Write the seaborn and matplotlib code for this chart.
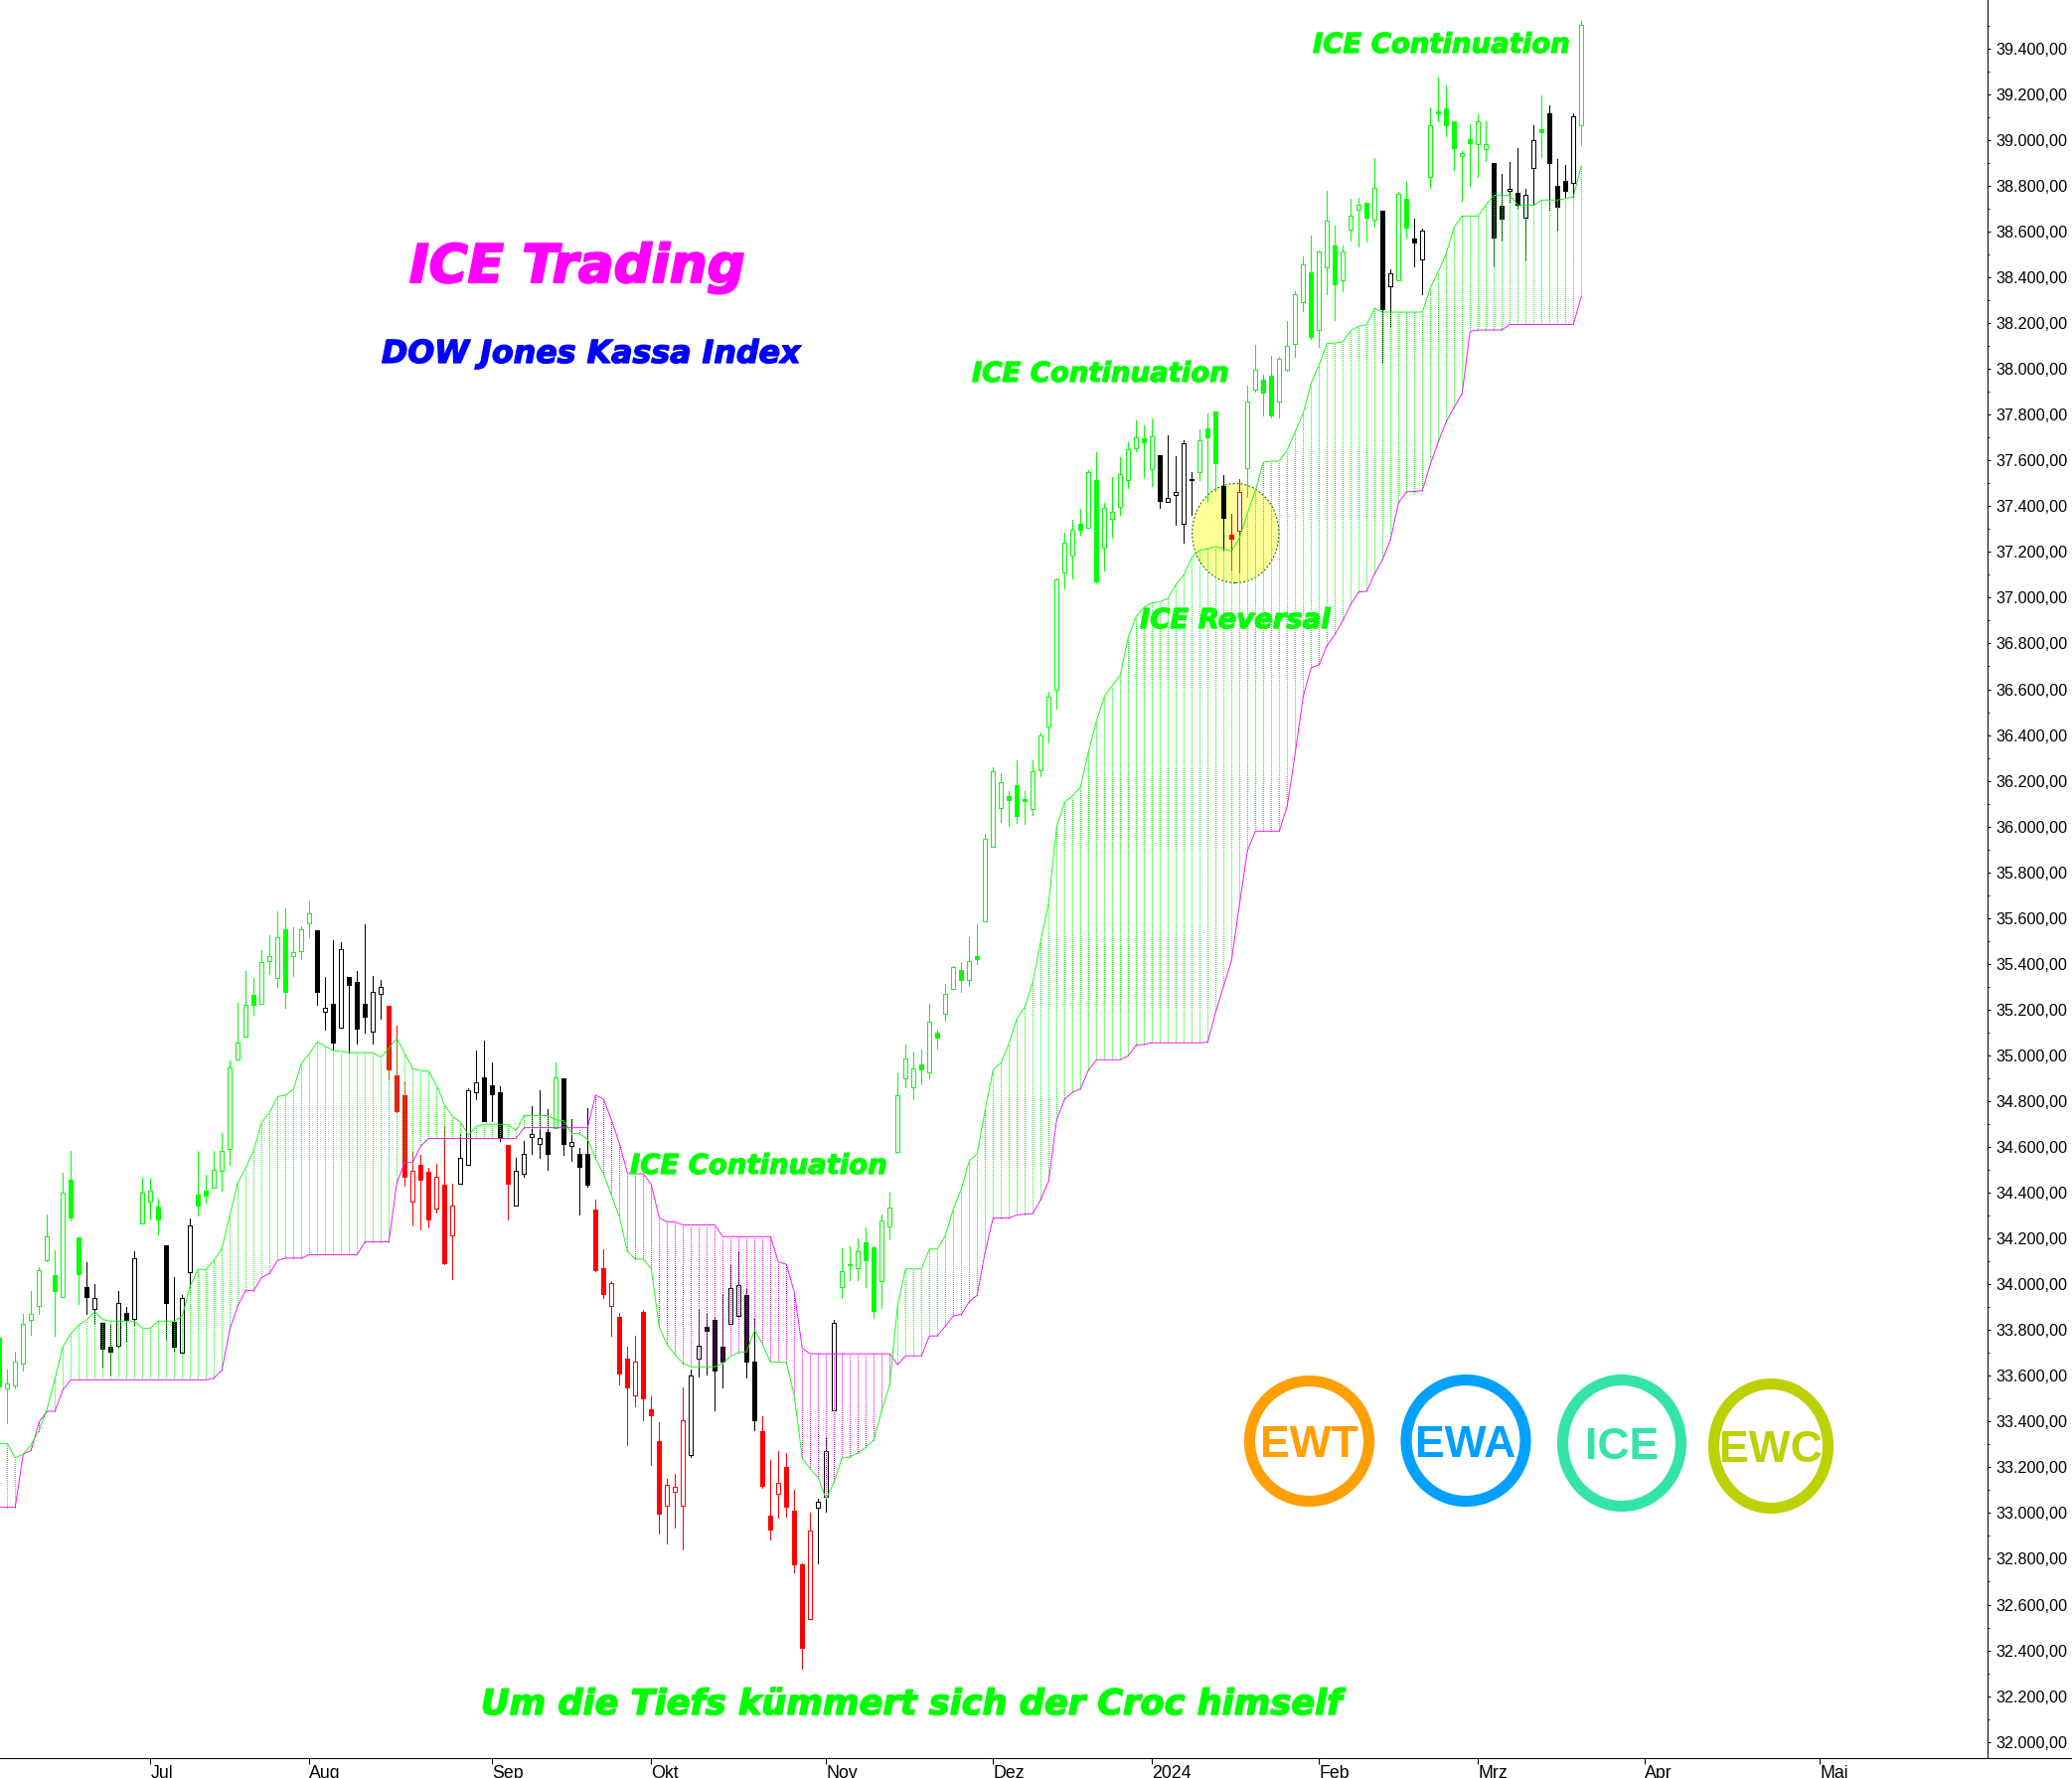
import matplotlib
matplotlib.use('Agg')
import matplotlib.pyplot as plt
from matplotlib import patheffects
from matplotlib.patches import Ellipse
import numpy as np
import pandas as pd
import seaborn as sns

# Daily bars, first one is partly cut off by the left edge
first_bar = -1

# G/K/R = filled green/black/red body, lower case = hollow body
bar_kinds = (
    'GggggggGgGG' 'KkKKkKk' 'ggG' 'KKkk' 'GGgggggGgggGggg' 'KkKkKKKkk' 'RRRrRRrRr'
    'kkkKKK' 'R' 'kkkkK' 'g' 'KkKK' 'RRrRRrRRRrrr' 'kkKKKkkKK' 'RRrRRRr' 'kkk'
    'gGgGGgggggGgGggGgGgggGGGggggggGgGgggggGg' 'Kkkkk' 'gGG' 'K' 'Rr'
    'ggGGggggGggGgggGg' 'Kk' 'gG' 'Kk' 'gGGGgGgg' 'KKkKkk' 'G' 'KKKk' 'g'
)

highs = [
    33765, 33628, 33705, 33869, 33970, 34074, 34304, 34147, 34487, 34584,
    34204, 34097, 34001, 33831, 33822, 33970, 33901, 34144, 34466, 34460,
    34374, 34170, 34031, 33954, 34287, 34581, 34479, 34584, 34660, 34980,
    35231, 35368, 35338, 35458, 35524, 35630, 35643, 35560, 35564, 35673,
    35547, 35342, 35504, 35494, 35342, 35368, 35573, 35349, 35330, 35217,
    35131, 34888, 34584, 34566, 34509, 34528, 34688, 34440, 34650, 34858,
    35020, 35065, 34971, 34865, 34607, 34554, 34624, 34780, 34846, 34763,
    34971, 34899, 34722, 34594, 34771, 34372, 34151, 34012, 33874, 33726,
    33773, 33889, 33509, 33396, 33151, 33170, 33550, 33626, 33893, 33876,
    33857, 33955, 34085, 34144, 33984, 33852, 33422, 33230, 33272, 33264,
    33102, 32782, 33000, 33064, 33334, 33846, 34159, 34164, 34202, 34248,
    34166, 34305, 34400, 34926, 35048, 35017, 35026, 35226, 35113, 35313,
    35392, 35407, 35516, 35573, 35968, 36259, 36232, 36157, 36289, 36157,
    36289, 36409, 36590, 37084, 37285, 37340, 37389, 37558, 37634, 37415,
    37528, 37615, 37679, 37773, 37754, 37784, 37622, 37709, 37618, 37686,
    37547, 37735, 37805, 37813, 37536, 37366, 37519, 37925, 38106, 37975,
    38056, 38051, 38209, 38340, 38492, 38581, 38517, 38779, 38625, 38540,
    38744, 38747, 38726, 38921, 38692, 38435, 38772, 38818, 38655, 38614,
    39142, 39275, 39238, 39082, 38953, 39070, 39112, 39082, 38898, 38850,
    38903, 38963, 38786, 39063, 39194, 39150, 38919, 38891, 39116, 39520,
]
body_top = [
    33765, 33567, 33660, 33829, 33872, 34061, 34208, 34038, 34402, 34458,
    34204, 33986, 33942, 33831, 33726, 33920, 33876, 34115, 34402, 34411,
    34338, 34170, 33835, 33938, 34255, 34390, 34409, 34502, 34581, 34946,
    35054, 35219, 35266, 35406, 35432, 35515, 35553, 35453, 35553, 35622,
    35547, 35210, 35225, 35466, 35342, 35319, 35225, 35276, 35300, 35217,
    34912, 34824, 34494, 34524, 34490, 34468, 34436, 34342, 34554, 34846,
    34884, 34905, 34871, 34837, 34607, 34494, 34571, 34658, 34641, 34664,
    34903, 34899, 34620, 34568, 34571, 34328, 34072, 34003, 33856, 33677,
    33660, 33878, 33452, 33315, 33125, 33113, 33404, 33599, 33733, 33816,
    33844, 33729, 33982, 33995, 33955, 33663, 33360, 32987, 33134, 33200,
    33012, 32778, 32925, 33048, 33270, 33833, 34055, 34087, 34146, 34183,
    34162, 34277, 34334, 34825, 34985, 34942, 34961, 35146, 35100, 35268,
    35385, 35371, 35411, 35433, 35946, 36240, 36196, 36132, 36179, 36121,
    36240, 36398, 36569, 37082, 37242, 37298, 37321, 37551, 37513, 37394,
    37375, 37539, 37647, 37703, 37698, 37707, 37622, 37434, 37460, 37677,
    37517, 37686, 37739, 37813, 37490, 37276, 37460, 37856, 37996, 37952,
    37969, 38044, 38102, 38326, 38458, 38421, 38512, 38646, 38538, 38512,
    38668, 38719, 38724, 38790, 38692, 38416, 38763, 38742, 38568, 38604,
    39063, 39126, 39137, 39082, 38942, 39006, 39080, 38981, 38898, 38712,
    38786, 38769, 38761, 38999, 39048, 39116, 38802, 38820, 39102, 39502,
]
body_bottom = [
    33555, 33545, 33556, 33652, 33846, 33903, 34106, 33972, 33944, 34293,
    34046, 33946, 33893, 33720, 33707, 33733, 33846, 33850, 34264, 34362,
    34281, 33916, 33729, 33699, 34051, 34342, 34387, 34421, 34494, 34590,
    34984, 35084, 35223, 35225, 35413, 35340, 35276, 35436, 35457, 35579,
    35276, 35189, 35057, 35121, 35310, 35119, 35170, 35106, 35268, 34940,
    34756, 34468, 34362, 34458, 34285, 34332, 34091, 34213, 34438, 34524,
    34841, 34713, 34831, 34639, 34438, 34345, 34481, 34645, 34615, 34571,
    34681, 34611, 34605, 34511, 34436, 34061, 33959, 33903, 33611, 33547,
    33513, 33503, 33428, 32999, 33031, 33095, 33034, 33255, 33677, 33797,
    33624, 33663, 33829, 33863, 33660, 33407, 33119, 32929, 33085, 33029,
    32778, 32413, 32535, 33025, 33070, 33451, 33986, 34083, 34068, 34106,
    33885, 34015, 34254, 34577, 34901, 34862, 34940, 34927, 35079, 35183,
    35292, 35328, 35328, 35420, 35588, 35910, 36083, 36117, 36048, 36110,
    36078, 36247, 36436, 36596, 37110, 37185, 37298, 37304, 37072, 37217,
    37343, 37398, 37513, 37654, 37681, 37560, 37421, 37417, 37447, 37321,
    37515, 37547, 37703, 37587, 37349, 37259, 37294, 37565, 37911, 37898,
    37797, 37856, 37998, 38108, 38290, 38139, 38168, 38442, 38372, 38386,
    38607, 38694, 38662, 38650, 38262, 38363, 38389, 38618, 38554, 38478,
    38838, 39119, 39063, 38963, 38928, 38988, 38981, 38960, 38575, 38655,
    38776, 38717, 38659, 38877, 39036, 38898, 38707, 38779, 38811, 39063,
]
lows = [
    33550, 33394, 33543, 33624, 33778, 33872, 34100, 33775, 33944, 34279,
    33912, 33872, 33831, 33637, 33605, 33727, 33752, 33822, 34264, 34281,
    34217, 33760, 33709, 33699, 33986, 34302, 34358, 34421, 34411, 34524,
    34984, 35084, 35178, 35225, 35355, 35300, 35210, 35347, 35423, 35517,
    35219, 35112, 35027, 35121, 35008, 35052, 35099, 35052, 35161, 34901,
    34748, 34430, 34257, 34240, 34247, 34315, 34087, 34021, 34438, 34524,
    34807, 34713, 34713, 34628, 34285, 34345, 34468, 34571, 34553, 34500,
    34681, 34566, 34541, 34304, 34428, 34055, 33942, 33776, 33562, 33296,
    33466, 33404, 33211, 32910, 32869, 32936, 32842, 33247, 33596, 33607,
    33451, 33547, 33829, 33856, 33594, 33362, 33112, 32886, 32982, 32985,
    32739, 32322, 32535, 32782, 33004, 33451, 33942, 34018, 34018, 33988,
    33855, 33897, 34196, 34577, 34861, 34809, 34874, 34901, 35030, 35151,
    35292, 35277, 35302, 35401, 35588, 35910, 36021, 36002, 36017, 36012,
    36051, 36221, 36366, 36515, 37042, 37085, 37276, 37304, 37065, 37121,
    37261, 37364, 37479, 37641, 37528, 37490, 37394, 37417, 37317, 37242,
    37364, 37515, 37417, 37468, 37204, 37123, 37116, 37441, 37902, 37797,
    37787, 37790, 37991, 38053, 38251, 38132, 38097, 38327, 38212, 38340,
    38561, 38536, 38558, 38620, 38031, 38186, 38389, 38575, 38450, 38327,
    38793, 39084, 39018, 38868, 38733, 38800, 38841, 38907, 38448, 38559,
    38726, 38699, 38474, 38717, 38926, 38696, 38607, 38753, 38753, 38978,
]

# Cloud borders, one value per bar
span_a = [
    33304, 33304, 33241, 33257, 33300, 33360, 33454, 33586, 33727, 33784,
    33822, 33844, 33880, 33846, 33839, 33839, 33839, 33839, 33808, 33808,
    33839, 33839, 33839, 33859, 33991, 34065, 34065, 34104, 34155, 34302,
    34443, 34509, 34584, 34707, 34750, 34820, 34826, 34852, 34965, 35008,
    35059, 35040, 35021, 35018, 35012, 35012, 35012, 35012, 34991, 35031,
    35074, 35008, 34942, 34933, 34931, 34869, 34784, 34733, 34709, 34652,
    34690, 34699, 34699, 34699, 34696, 34671, 34737, 34737, 34737, 34737,
    34718, 34715, 34658, 34658, 34634, 34549, 34483, 34389, 34294, 34144,
    34110, 34110, 34068, 33814, 33735, 33692, 33654, 33639, 33639, 33639,
    33639, 33654, 33686, 33701, 33705, 33799, 33739, 33660, 33660, 33658,
    33513, 33240, 33193, 33155, 33061, 33136, 33240, 33245, 33264, 33287,
    33320, 33448, 33561, 33908, 34067, 34067, 34067, 34154, 34154, 34212,
    34328, 34415, 34538, 34570, 34762, 34936, 34968, 35052, 35160, 35211,
    35321, 35499, 35669, 35999, 36106, 36134, 36172, 36328, 36460, 36569,
    36616, 36662, 36827, 36918, 36959, 36978, 36982, 36997, 37057, 37100,
    37176, 37208, 37214, 37223, 37214, 37204, 37261, 37370, 37468, 37592,
    37597, 37597, 37645, 37725, 37805, 37937, 38017, 38111, 38113, 38118,
    38168, 38186, 38193, 38265, 38248, 38248, 38248, 38248, 38248, 38248,
    38354, 38425, 38504, 38620, 38668, 38668, 38668, 38717, 38758, 38760,
    38758, 38717, 38715, 38715, 38738, 38738, 38738, 38744, 38753, 38889,
]
span_b = [
    33025, 33025, 33025, 33257, 33274, 33398, 33445, 33445, 33539, 33582,
    33582, 33582, 33582, 33582, 33582, 33582, 33582, 33582, 33582, 33582,
    33582, 33582, 33582, 33582, 33582, 33582, 33582, 33590, 33624, 33803,
    33906, 33972, 33972, 34029, 34048, 34104, 34114, 34114, 34114, 34129,
    34129, 34129, 34129, 34129, 34129, 34129, 34185, 34185, 34185, 34185,
    34443, 34532, 34532, 34603, 34637, 34637, 34637, 34637, 34637, 34637,
    34637, 34637, 34637, 34637, 34637, 34637, 34684, 34684, 34684, 34684,
    34684, 34684, 34684, 34684, 34684, 34826, 34809, 34718, 34615, 34487,
    34483, 34483, 34436, 34291, 34272, 34272, 34259, 34259, 34259, 34259,
    34259, 34208, 34208, 34208, 34208, 34208, 34208, 34208, 34097, 34087,
    33965, 33720, 33696, 33696, 33696, 33696, 33696, 33696, 33696, 33696,
    33696, 33696, 33696, 33648, 33687, 33687, 33687, 33774, 33774, 33817,
    33862, 33868, 33923, 33952, 34140, 34289, 34289, 34289, 34303, 34306,
    34309, 34371, 34451, 34719, 34809, 34839, 34854, 34936, 34981, 34981,
    34981, 34981, 34998, 35045, 35048, 35055, 35055, 35055, 35055, 35055,
    35055, 35055, 35058, 35189, 35302, 35415, 35660, 35895, 35980, 35980,
    35980, 35980, 36089, 36319, 36567, 36693, 36707, 36790, 36839, 36901,
    36972, 37025, 37028, 37105, 37167, 37255, 37415, 37463, 37464, 37468,
    37583, 37681, 37769, 37831, 37893, 38164, 38170, 38170, 38170, 38170,
    38194, 38194, 38194, 38194, 38194, 38194, 38194, 38194, 38194, 38318,
]

month_bars = [18, 38, 61, 81, 103, 124, 144, 165, 185, 206, 228]
month_labels = ['Jul', 'Aug', 'Sep', 'Okt', 'Nov', 'Dez', '2024', 'Feb', 'Mrz', 'Apr', 'Mai']

price_ticks = list(range(32000, 39401, 200))
price_minor = list(range(32100, 39600, 200))

GREEN = '#00ff00'
MAGENTA = '#ff00ff'
colour_of = {'g': GREEN, 'k': '#000000', 'r': '#ff0000'}
PX = 0.72  # one pixel in points at dpi 100

sns.set_theme(style='white')
plt.rcParams['font.family'] = ['Liberation Sans', 'DejaVu Sans']

W, H = 2085, 1789
fig = plt.figure(figsize=(W / 100, H / 100), dpi=100, facecolor='white')
ax = fig.add_axes([0, 20 / H, 2000 / W, 1769 / H], facecolor='white')

df = pd.DataFrame({
    'bar': np.arange(first_bar, first_bar + len(highs)),
    'kind': list(bar_kinds),
    'high': highs,
    'top': body_top,
    'bottom': body_bottom,
    'low': lows,
    'span_a': span_a,
    'span_b': span_b,
})
df['colour'] = df['kind'].str.lower().map(colour_of)
df['face'] = np.where(df['kind'].str.isupper(), df['colour'], 'white')

# Highlighted reversal area sits below everything else
ax.add_patch(Ellipse((154.5, 37282), 10.9, 434, facecolor='#ffff99', edgecolor='#006400',
                     linewidth=PX, linestyle=(0, (2, 2)), zorder=1))

# Candles
ax.vlines(df['bar'], df['low'], df['high'], colors=df['colour'], linewidth=PX,
          antialiased=False, zorder=2)
ax.bar(df['bar'], df['top'] - df['bottom'], bottom=df['bottom'], width=0.55,
       color=df['face'], edgecolor=df['colour'], linewidth=PX, antialiased=False, zorder=3)

# Cloud hatching, dotted and drawn over the candles
up = df['span_a'] >= df['span_b']
hatch = np.where(up, GREEN, MAGENTA)
ax.vlines(df['bar'], df[['span_a', 'span_b']].min(axis=1), df[['span_a', 'span_b']].max(axis=1),
          colors=hatch, linewidth=PX, linestyles=[(0, (1, 1.2))], antialiased=False, zorder=4)

# Cloud borders
sns.lineplot(data=df, x='bar', y='span_b', color=MAGENTA, linewidth=0.9 * PX, ax=ax,
             estimator=None, sort=False, legend=False, zorder=5)
sns.lineplot(data=df, x='bar', y='span_a', color=GREEN, linewidth=0.9 * PX, ax=ax,
             estimator=None, sort=False, legend=False, zorder=5)

ax.set_xlim(-0.9125, 249.09)
ax.set_ylim(31929, 39612)
ax.set_xlabel('')
ax.set_ylabel('')

ax.yaxis.tick_right()
ax.set_yticks(price_ticks)
ax.set_yticklabels([f'{p:,.2f}'.replace(',', 'X').replace('.', ',').replace('X', '.') for p in price_ticks])
ax.set_yticks(price_minor, minor=True)
ax.tick_params(axis='y', which='major', right=True, length=3 * PX, width=PX, pad=4,
               labelsize=11.6, colors='black')
ax.tick_params(axis='y', which='minor', right=True, length=1.5 * PX, width=PX)

ax.set_xticks(month_bars)
ax.set_xticklabels(month_labels, ha='left')
ax.tick_params(axis='x', bottom=True, length=6 * PX, width=PX, pad=0.5, labelsize=12.8, colors='black')

for side in ['top', 'left']:
    ax.spines[side].set_visible(False)
for side in ['right', 'bottom']:
    ax.spines[side].set_visible(True)
    ax.spines[side].set_color('black')
    ax.spines[side].set_linewidth(PX)

# Overlay in pixel coordinates for the comments and the badges
over = fig.add_axes([0, 0, 1, 1], facecolor='none')
over.set_xlim(0, W)
over.set_ylim(H, 0)
over.axis('off')

# Bottom rule runs on to the right edge of the picture
over.plot([2000, W], [1769, 1769], color='black', linewidth=PX, solid_capstyle='butt')


def note(x, y, text, colour, size, heavy):
    # DejaVu bold is lighter than the original face, a thin stroke makes up for it
    label = over.text(x, y, text, color=colour, fontsize=size, family='DejaVu Sans', weight='bold',
                      style='italic', va='baseline', ha='left')
    label.set_path_effects([patheffects.withStroke(linewidth=heavy, foreground=colour)])


note(412, 284, 'ICE Trading', MAGENTA, 38.2, 1.6)
note(384, 365, 'DOW Jones Kassa Index', '#0000ff', 22.8, 1.0)
note(1321, 53, 'ICE Continuation', GREEN, 19.8, 0.9)
note(978, 384, 'ICE Continuation', GREEN, 19.8, 0.9)
note(634, 1181, 'ICE Continuation', GREEN, 19.8, 0.9)
note(1147, 632, 'ICE Reversal', GREEN, 19.8, 0.9)
note(484, 1725, 'Um die Tiefs kümmert sich der Croc himself', GREEN, 25.3, 1.1)

# Round badges
badges = [
    ('EWT', '#ff9f00', 1317.5, 1450, 120, 121),
    ('EWA', '#00a0ff', 1475, 1449.5, 120, 122),
    ('ICE', '#33e3aa', 1632, 1452, 119, 127),
    ('EWC', '#bdd000', 1782, 1455, 115, 125),
]
for label, colour, cx, cy, bw, bh in badges:
    over.add_patch(Ellipse((cx, cy), bw, bh, fill=False, edgecolor=colour, linewidth=8))
    over.text(cx, cy, label, color=colour, family='Liberation Sans', weight='bold', fontsize=32,
              ha='center', va='center_baseline')

fig.savefig('out.png', dpi=100)
